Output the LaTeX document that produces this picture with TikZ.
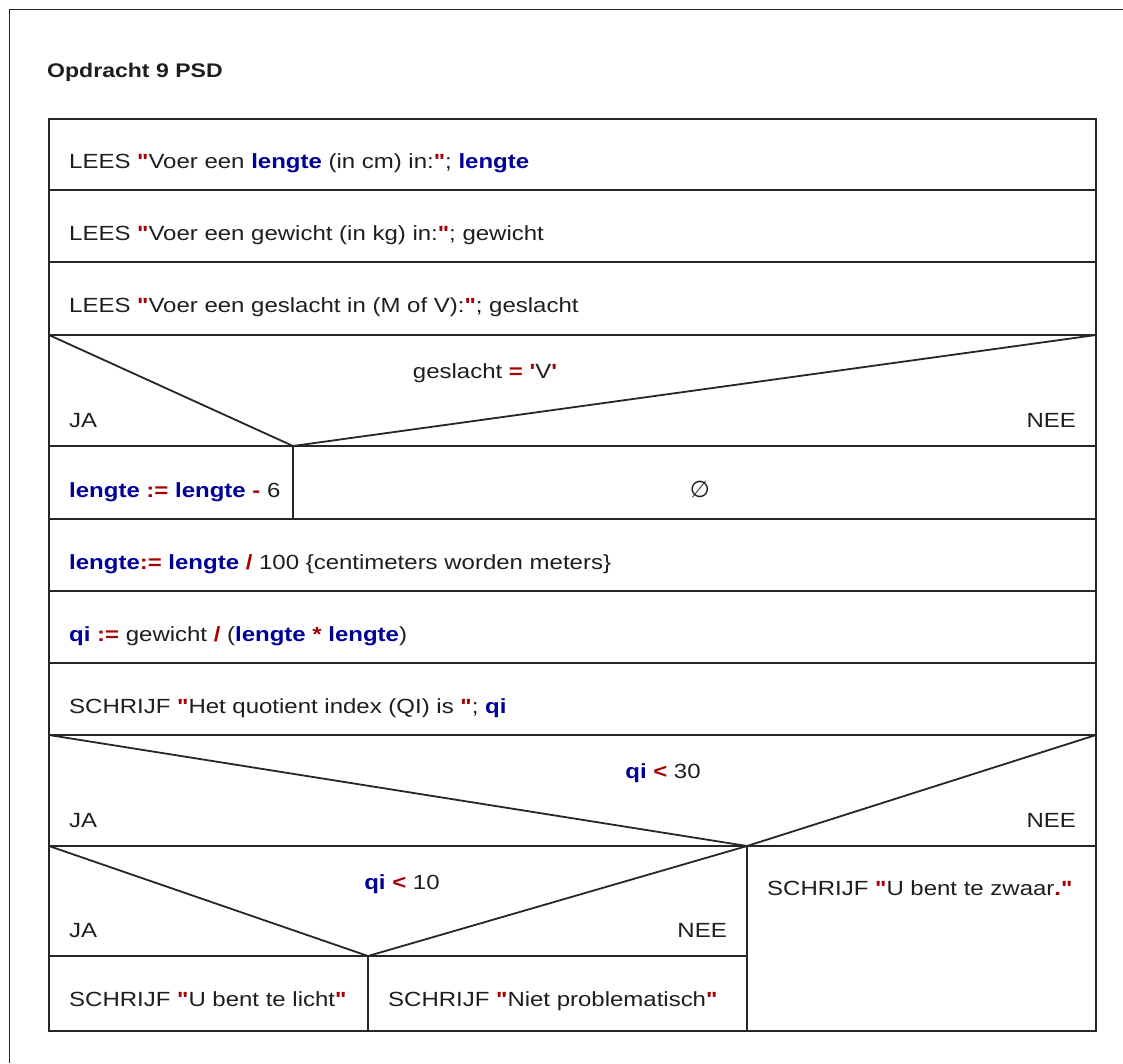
\documentclass[tikz,border=0pt]{standalone}
\usepackage{fontspec}
\newfontfamily\psdfont{Liberation Sans}[FakeStretch=1.17]
\newfontfamily\psdsym{DejaVu Sans}
\definecolor{kwblue}{HTML}{00009A}
\definecolor{kwred}{HTML}{A80000}
\definecolor{txt}{HTML}{1E1E1E}
\definecolor{ln}{HTML}{262626}
\newcommand{\bluekw}[1]{{\color{kwblue}\bfseries #1}}
\newcommand{\redkw}[1]{{\color{kwred}\bfseries #1}}
\begin{document}
\begin{tikzpicture}[x=1pt,y=-1pt,
  psdline/.style={draw=ln,line width=1.8pt},
  frameline/.style={draw=ln,line width=1.8pt},
  txtl/.style={anchor=base west,inner sep=0pt,text=txt,font=\psdfont\fontsize{20.5}{24}\selectfont},
  txtc/.style={anchor=base,inner sep=0pt,text=txt,font=\psdfont\fontsize{20.5}{24}\selectfont},
  txtr/.style={anchor=base east,inner sep=0pt,text=txt,font=\psdfont\fontsize{20.5}{24}\selectfont},
  titletxt/.style={anchor=base west,inner sep=0pt,text=txt,font=\psdfont\bfseries\fontsize{19.7}{24}\selectfont}]
\useasboundingbox (0,0) rectangle (1123,1063);
\fill[white] (0,0) rectangle (1123,1063);
% outer frame (top and left edges visible)
\draw[frameline] (9.5,1063) -- (9.5,9.5) -- (1123,9.5);
\node[titletxt] (title) at (47,77) {Opdracht 9 PSD};
% main structure
\coordinate (tl) at (49,119);
\coordinate (br) at (1096,1031);
\draw[psdline] (tl) rectangle (br);
\foreach \yy in {190,262,335,446,519,591,663,735,846}
  \draw[psdline] (49,\yy) -- (1096,\yy);
% decision 1
\coordinate (apexA) at (293,446);
\draw[psdline] (49,335) -- (apexA) -- (1096,335);
\draw[psdline] (apexA) -- (293,519);
% decision 2
\coordinate (apexB) at (747,846);
\draw[psdline] (49,735) -- (apexB) -- (1096,735);
\draw[psdline] (apexB) -- (747,1031);
% decision 3
\coordinate (apexC) at (368,956);
\draw[psdline] (49,956) -- (747,956);
\draw[psdline] (49,846) -- (apexC) -- (747,846);
\draw[psdline] (apexC) -- (368,1031);
% texts
\node[txtl] (r1) at (69,168) {LEES \redkw{"}Voer een \bluekw{lengte} (in cm) in:\redkw{"}; \bluekw{lengte}};
\node[txtl] (r2) at (69,240) {LEES \redkw{"}Voer een gewicht (in kg) in:\redkw{"}; gewicht};
\node[txtl] (r3) at (69,312) {LEES \redkw{"}Voer een geslacht in (M of V):\redkw{"}; geslacht};
\node[txtc] (c1) at (485,378) {geslacht \redkw{=} \redkw{'}V\redkw{'}};
\node[txtl] (ja1) at (69,427) {JA};
\node[txtr] (nee1) at (1076,427) {NEE};
\node[txtl] (r4) at (69,497) {\bluekw{lengte} \redkw{:=} \bluekw{lengte} \redkw{-} 6};
\node[txtc] (empty) at (700,497) {\psdsym\fontsize{23}{26}\selectfont ∅};
\node[txtl] (r5) at (69,569) {\bluekw{lengte}\redkw{:=} \bluekw{lengte} \redkw{/} 100 \{centimeters worden meters\}};
\node[txtl] (r6) at (69,641) {\bluekw{qi} \redkw{:=} gewicht \redkw{/} (\bluekw{lengte} \redkw{*} \bluekw{lengte})};
\node[txtl] (r7) at (69,713) {SCHRIJF \redkw{"}Het quotient index (QI) is \redkw{"}; \bluekw{qi}};
\node[txtc] (c2) at (663,778) {\bluekw{qi} \redkw{<} 30};
\node[txtl] (ja2) at (69,827) {JA};
\node[txtr] (nee2) at (1076,827) {NEE};
\node[txtc] (c3) at (402,889) {\bluekw{qi} \redkw{<} 10};
\node[txtl] (ja3) at (69,937) {JA};
\node[txtr] (nee3) at (727,937) {NEE};
\node[txtl] (zwaar) at (767,895) {SCHRIJF \redkw{"}U bent te zwaar\redkw{."}};
\node[txtl] (licht) at (69,1006) {SCHRIJF \redkw{"}U bent te licht\redkw{"}};
\node[txtl] (niet) at (388,1006) {SCHRIJF \redkw{"}Niet problematisch\redkw{"}};
\end{tikzpicture}
\end{document}
